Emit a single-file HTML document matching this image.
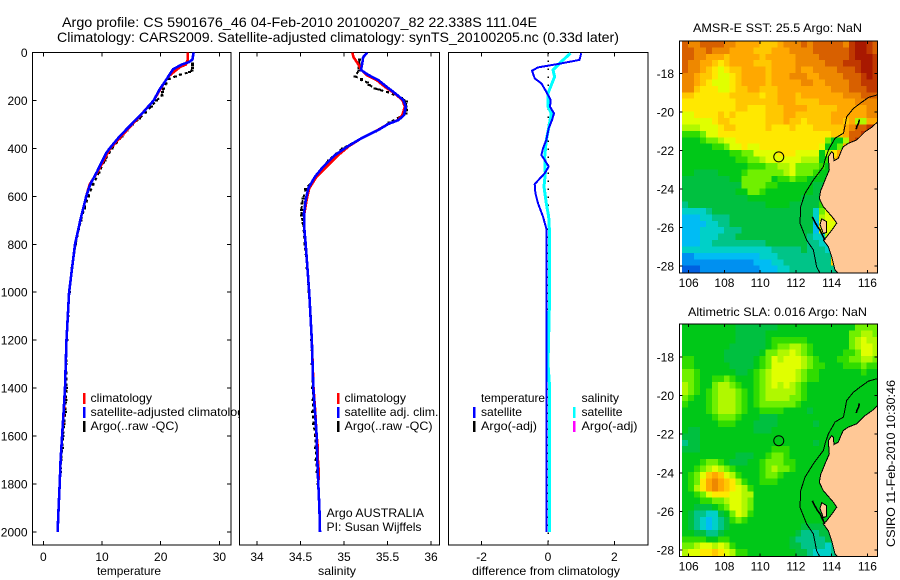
<!DOCTYPE html>
<html>
<head>
<meta charset="utf-8">
<title>Argo profile</title>
<style>
html,body{margin:0;padding:0;background:#fff;width:900px;height:580px;overflow:hidden}
svg{display:block}
text{font-family:"Liberation Sans",sans-serif;font-size:12px;fill:#000}
</style>
</head>
<body>
<svg id="chart" xmlns="http://www.w3.org/2000/svg" width="900" height="580" viewBox="0 0 900 580">
<defs>
<clipPath id="clip-temp"><rect x="32.5" y="52.5" width="198.5" height="492.5"/></clipPath>
<clipPath id="clip-sal"><rect x="239.5" y="52.5" width="200" height="492.5"/></clipPath>
<clipPath id="clip-diff"><rect x="448.5" y="52.5" width="199.5" height="492.5"/></clipPath>
<clipPath id="clip-map-sst"><rect x="679.5" y="41" width="198" height="232"/></clipPath>
<clipPath id="clip-map-sla"><rect x="679.5" y="324" width="198" height="232.5"/></clipPath>
</defs>
<rect x="0" y="0" width="900" height="580" fill="#fff"/>
<text x="62" y="27" style="font-size:14px" textLength="475" lengthAdjust="spacingAndGlyphs">Argo profile: CS 5901676_46 04-Feb-2010 20100207_82 22.338S 111.04E</text>
<text x="57" y="42" style="font-size:14px" textLength="562" lengthAdjust="spacingAndGlyphs">Climatology: CARS2009. Satellite-adjusted climatology: synTS_20100205.nc (0.33d later)</text>

<g id="panel-temp"></g>
<g>
<rect x="83" y="393" width="2.5" height="11" fill="#f00"/>
<text x="90.5" y="402" textLength="61.5" lengthAdjust="spacingAndGlyphs">climatology</text>
<rect x="83" y="407" width="2.5" height="11" fill="#00f"/>
<text x="90.5" y="416" textLength="160" lengthAdjust="spacingAndGlyphs">satellite-adjusted climatology</text>
<rect x="83" y="421" width="2.5" height="11" fill="#000"/>
<text x="90.5" y="430" textLength="88" lengthAdjust="spacingAndGlyphs">Argo(..raw -QC)</text>
</g>

<g id="panel-sal"></g>
<g>
<rect x="337" y="393" width="2.5" height="11" fill="#f00"/>
<text x="344.5" y="402" textLength="61.5" lengthAdjust="spacingAndGlyphs">climatology</text>
<rect x="337" y="407" width="2.5" height="11" fill="#00f"/>
<text x="344.5" y="416" textLength="94" lengthAdjust="spacingAndGlyphs">satellite adj. clim.</text>
<rect x="337" y="421" width="2.5" height="11" fill="#000"/>
<text x="344.5" y="430" textLength="88" lengthAdjust="spacingAndGlyphs">Argo(..raw -QC)</text>
<text x="326.5" y="517" textLength="97.5" lengthAdjust="spacingAndGlyphs">Argo AUSTRALIA</text>
<text x="326.5" y="531" textLength="95" lengthAdjust="spacingAndGlyphs">PI: Susan Wijffels</text>
</g>

<g id="panel-diff"></g>
<g>
<text x="481" y="402" textLength="64" lengthAdjust="spacingAndGlyphs">temperature</text>
<rect x="473" y="407" width="2.5" height="11" fill="#00f"/>
<text x="481" y="416" textLength="41" lengthAdjust="spacingAndGlyphs">satellite</text>
<rect x="473" y="421" width="2.5" height="11" fill="#000"/>
<text x="481" y="430" textLength="56" lengthAdjust="spacingAndGlyphs">Argo(-adj)</text>
<text x="581.5" y="402" textLength="37.5" lengthAdjust="spacingAndGlyphs">salinity</text>
<rect x="573" y="407" width="2.5" height="11" fill="#0ff"/>
<text x="581.5" y="416" textLength="41" lengthAdjust="spacingAndGlyphs">satellite</text>
<rect x="573" y="421" width="2.5" height="11" fill="#f0f"/>
<text x="581.5" y="430" textLength="56" lengthAdjust="spacingAndGlyphs">Argo(-adj)</text>
</g>

<text x="97" y="575" textLength="64" lengthAdjust="spacingAndGlyphs">temperature</text>
<text x="318" y="575" textLength="38" lengthAdjust="spacingAndGlyphs">salinity</text>
<text x="472" y="575" textLength="148" lengthAdjust="spacingAndGlyphs">difference from climatology</text>

<text x="693" y="32" textLength="169" lengthAdjust="spacingAndGlyphs">AMSR-E SST: 25.5 Argo: NaN</text>
<g id="map-sst"></g>
<text x="688" y="316" textLength="179" lengthAdjust="spacingAndGlyphs">Altimetric SLA: 0.016 Argo: NaN</text>
<g id="map-sla"></g>
<text transform="translate(895,547) rotate(-90)" textLength="167" lengthAdjust="spacingAndGlyphs">CSIRO 11-Feb-2010 10:30:46</text>
</svg>

<script>
// ---------- profile data (depth in dbar) ----------
const climTempDepths=[0,30,50,60,80,100,130,200,280,400,500,550,600,700,800,1000,1200,1400,1500,1600,1700,1800,1900,2000];
const climTempValues=[24.6,24.6,24.3,23.3,22.3,21.3,20.5,18.8,15.9,11.4,9.2,7.9,7.3,6.3,5.4,4.4,3.95,3.7,3.5,3.2,2.95,2.8,2.6,2.43];
const satTempDepths=[0,30,40,50,70,100,130,150,200,250,300,350,400,420,500,550,600,700,800,1000,1200,1400,1500,1600,1700,1800,1900,2000];
const satTempValues=[25.6,25.4,24.8,23.6,22.1,21.3,20.5,19.9,18.8,17,15,13,11.3,10.7,9.1,8,7.3,6.3,5.4,4.4,3.95,3.7,3.45,3.2,2.95,2.8,2.6,2.43];
const argoTempDepths=[45,55,65,75,82,92,100,110,130,150,165,180,200,225,250,275,300,325,350,375,400,450,500,550,600,650,700,800,900,1000,1100,1200,1300,1400,1450,1500,1550,1600,1650,1700,1750];
const argoTempValues=[25.4,25.4,25.4,25.3,24.9,23.4,22.5,21.4,20.9,20.5,20.3,20.2,19.3,18.4,17.4,16.4,15.2,14.3,13.4,12.5,11.7,10.5,9.5,8.5,7.7,7,6.4,5.5,4.9,4.45,4.2,4,3.9,3.95,3.85,3.75,3.55,3.35,3.25,3.05,2.95];

const climSalDepths=[0,20,45,73,94,115,143,170,198,226,261,282,298,323,358,390,428,477,518,567,615,671,734,800,1000,1200,1400,1500,1600,1650,1700,1750,1800,1900,2000];
const climSalValues=[35.095,35.11,35.157,35.2,35.26,35.376,35.47,35.58,35.67,35.7,35.67,35.62,35.51,35.39,35.2,35.06,34.935,34.8,34.685,34.6,34.57,34.545,34.544,34.56,34.6,34.63,34.65,34.67,34.685,34.7,34.7,34.71,34.705,34.717,34.724];
const satSalDepths=[0,20,45,73,94,115,143,170,198,226,261,282,298,323,358,390,428,477,518,567,615,671,734,800,1000,1200,1400,1500,1600,1700,1800,1900,2000];
const satSalValues=[35.268,35.22,35.21,35.195,35.28,35.395,35.49,35.586,35.68,35.71,35.69,35.625,35.51,35.395,35.2,35.05,34.896,34.76,34.667,34.59,34.56,34.54,34.544,34.56,34.6,34.63,34.647,34.667,34.686,34.693,34.705,34.717,34.724];
const argoSalDepths=[30,45,55,65,75,100,110,115,125,135,150,155,165,190,205,225,240,255,293,330,400,450,518,570,610,630,657,680,712,800,900,1000,1100,1200,1300,1400,1450,1500,1550,1600,1650,1700,1750,1800];
const argoSalValues=[35.18,35.17,35.17,35.17,35.17,35.126,35.2,35.2,35.27,35.29,35.357,35.4,35.5,35.66,35.72,35.71,35.72,35.71,35.52,35.36,34.98,34.82,34.68,34.56,34.53,34.52,34.51,34.51,34.53,34.55,34.575,34.595,34.615,34.625,34.635,34.64,34.645,34.64,34.65,34.67,34.675,34.68,34.69,34.7];

const diffTempDepths=[3,31,48,62,76,108,129,164,198,226,254,282,316,365,400,428,449,476,504,549,587,629,685,734,800,2000];
const diffTempValues=[1.0,0.95,0.3,-0.3,-0.48,-0.4,-0.2,-0.05,0.08,0.06,0.18,0.12,0.02,-0.05,-0.15,-0.2,-0.1,0.02,-0.1,-0.4,-0.38,-0.3,-0.15,-0.05,-0.05,-0.05];
const diffSalDepths=[3,38,73,101,136,170,226,254,316,365,435,504,560,629,685,734,800,1000,1300,1400,2000];
const diffSalValues=[0.68,0.4,0.15,0.2,0.1,0,0,0.1,0.02,-0.05,-0.1,-0.08,-0.12,-0.05,0.02,0.04,0.04,0.05,0.0,0.05,0.05];

const tempTicks=[0,10,20,30];
const salTicks=[34,34.5,35,35.5,36];
const salTickLabels=["34","34.5","35","35.5","36"];
const diffTicks=[-2,0,2];
const depthTicks=[0,200,400,600,800,1000,1200,1400,1600,1800,2000];
const zeroLineDepths=[0,2040];

// ---------- map data (colour-level per 1/3 degree cell, north to south) ----------
const sstCells=[
[15,14,14,15,15,15,15,14,14,13,13,13,13,12,12,12,13,14,14,14,15,14,15,15,15,15,15,14,16,17,17,16,15],
[15,15,14,14,15,14,14,14,13,13,13,13,12,12,12,13,13,13,14,14,14,14,15,15,15,15,15,15,16,17,17,16,15],
[15,15,14,14,13,13,13,12,13,13,13,13,13,12,13,13,13,13,13,14,14,14,14,15,15,15,15,15,16,17,17,17,16],
[15,14,14,13,13,12,11,12,13,13,13,13,12,12,12,13,13,13,13,14,14,14,14,14,15,15,15,16,16,16,17,17,16],
[15,14,14,13,12,11,10,11,12,12,13,13,13,13,12,13,13,13,13,14,13,13,14,14,14,14,15,15,15,16,17,17,16],
[14,14,13,12,12,11,10,10,11,12,13,13,13,13,12,13,13,13,14,14,14,13,13,14,14,14,14,15,15,15,16,17,16],
[14,14,13,12,11,10,10,10,11,12,13,13,13,13,12,13,13,13,13,13,14,14,13,13,14,14,14,14,15,15,16,16,16],
[14,14,12,11,11,11,10,10,11,12,12,13,13,12,12,12,13,13,13,13,13,13,13,13,13,14,14,14,15,15,15,16,16],
[12,12,11,11,11,11,11,11,12,12,12,12,12,11,12,12,13,13,13,12,13,13,13,13,13,13,13,14,14,14,15,15,15],
[11,11,11,11,11,11,11,11,11,12,12,12,12,12,12,12,13,13,13,12,12,12,12,13,13,13,13,13,13,14,14,14,14],
[11,11,11,11,11,11,11,11,11,12,12,11,11,11,12,12,12,13,13,13,13,12,12,12,12,12,13,13,13,13,13,14,14],
[10,10,11,11,11,11,12,11,12,11,11,11,11,11,12,12,12,13,13,12,12,12,12,12,12,13,13,13,13,13,13,14,14],
[10,10,10,10,10,11,12,12,11,11,11,11,11,11,12,12,12,13,12,12,11,12,12,12,12,13,13,12,13,9,9,13,13],
[9,9,9,10,10,10,11,12,12,11,11,11,11,11,12,11,11,11,12,11,11,11,12,12,12,12,12,13,14,15,15,16,17],
[7,7,7,8,10,10,11,11,11,11,11,11,11,11,11,11,11,11,11,11,11,11,11,11,11,12,12,13,15,15,16,17,17],
[6,6,6,7,8,8,9,10,10,11,11,11,11,11,11,11,11,11,11,11,11,11,11,11,8,6,6,9,15,16,16,17,17],
[6,6,6,6,6,7,7,8,10,10,11,10,10,11,11,11,11,11,11,11,11,11,11,10,6,6,8,13,15,16,16,16,17],
[6,6,6,6,6,6,6,6,7,7,8,8,10,10,10,10,11,11,11,10,10,10,10,6,9,11,13,14,13,12,12,12,12],
[6,6,6,6,6,6,6,6,6,7,7,8,8,9,10,10,10,10,10,10,9,9,9,6,7,12,14,13,12,12,12,12,12],
[6,6,6,6,6,6,6,6,6,6,6,7,7,7,8,8,9,9,10,8,8,8,8,7,6,7,7,12,12,12,12,12,12],
[6,6,5,5,5,5,6,6,6,6,7,8,8,8,8,8,8,9,10,8,8,8,7,6,6,6,12,12,12,12,12,12,12],
[5,5,5,5,5,5,5,5,6,6,8,8,8,8,8,6,7,7,8,7,7,6,6,6,5,5,12,12,12,12,12,12,12],
[5,5,5,5,5,5,5,5,5,5,8,8,8,8,7,7,6,6,6,6,6,6,5,5,5,12,12,12,12,12,12,12,12],
[5,5,5,5,5,5,5,5,5,6,6,8,8,7,6,6,6,6,6,6,6,6,5,5,5,12,12,12,12,12,12,12,12],
[5,5,5,5,5,5,5,5,5,5,5,6,6,6,6,6,6,6,6,6,5,5,5,5,5,12,12,12,12,12,12,12,12],
[4,5,5,5,5,5,5,5,5,5,5,5,5,5,6,6,6,6,5,5,5,5,5,7,9,11,12,12,12,12,12,12,12],
[3,3,3,3,4,5,5,5,5,5,5,5,5,5,5,5,5,5,5,5,5,5,3,8,10,11,12,12,12,12,12,12,12],
[2,2,2,3,3,4,4,4,5,5,5,5,5,5,5,5,5,5,5,5,5,5,3,9,10,11,11,12,12,12,12,12,12],
[2,2,2,2,3,3,4,4,5,5,5,5,5,5,5,5,5,5,5,5,5,5,2,10,10,10,11,11,12,12,12,12,12],
[2,2,2,3,3,3,3,4,4,4,5,5,5,5,5,5,5,5,5,5,5,5,2,10,10,10,11,11,12,12,12,12,12],
[2,2,2,3,3,3,4,4,4,5,5,5,5,5,5,5,5,5,5,5,5,4,3,3,9,10,10,11,12,12,12,12,12],
[2,2,2,3,3,4,4,4,4,4,4,4,4,4,5,5,5,5,5,5,5,4,4,3,3,3,12,12,12,12,12,12,12],
[3,3,3,3,3,3,3,3,3,3,3,3,3,3,3,4,4,4,4,4,5,4,4,4,3,3,12,12,12,12,12,12,12],
[1,1,2,2,2,2,2,2,2,2,2,2,2,3,3,3,4,4,4,4,4,4,4,4,4,12,12,12,12,12,12,12,12],
[1,1,1,1,1,1,1,1,1,1,1,1,2,2,2,3,3,4,4,4,4,4,4,4,4,12,12,12,12,12,12,12,12],
[0,0,0,1,1,1,1,1,1,1,1,1,1,2,2,2,3,3,4,4,4,4,4,4,4,4,12,12,12,12,12,12,12]
];
const slaCells=[
[6,6,6,6,6,6,6,6,6,5,5,5,5,5,5,5,6,6,6,6,6,6,6,6,6,6,6,6,6,8,8,8,8],
[6,6,6,6,6,6,6,6,6,5,5,5,5,5,6,6,6,6,6,6,6,6,6,6,6,6,6,6,8,8,9,9,8],
[6,6,6,6,6,6,6,6,6,5,5,5,5,5,6,7,7,7,7,7,7,6,6,6,6,6,6,6,8,9,10,9,9],
[6,6,6,6,6,6,6,6,5,5,5,5,5,5,6,7,8,8,9,9,8,7,6,6,6,6,6,6,8,9,10,10,9],
[6,6,6,6,6,6,6,5,5,5,5,5,5,6,8,8,9,9,10,9,8,7,6,6,6,6,6,7,7,8,10,10,9],
[7,7,6,6,6,6,6,5,5,5,5,5,6,7,8,10,9,10,10,10,9,8,7,6,6,6,7,7,8,8,9,9,8],
[7,7,6,6,6,6,6,6,5,5,5,5,6,7,8,10,10,10,10,10,9,8,7,7,6,6,6,7,7,7,8,7,7],
[8,8,7,6,6,6,6,6,6,5,5,6,7,8,9,10,10,10,10,9,8,7,7,6,6,6,6,6,6,6,7,6,6],
[8,8,7,6,6,7,7,8,7,6,6,6,7,8,9,10,10,10,10,9,8,7,7,6,6,6,6,6,6,6,6,6,6],
[9,8,7,6,6,8,9,9,8,7,6,6,7,8,9,10,9,10,9,8,7,6,6,6,6,6,6,6,6,6,6,6,6],
[9,8,7,6,7,8,9,9,9,8,7,6,7,8,9,9,9,9,9,8,7,6,6,6,6,6,6,6,6,6,6,6,6],
[8,7,6,6,7,8,9,9,9,8,7,6,7,8,9,9,9,9,8,8,7,6,6,6,6,6,6,6,6,6,6,6,6],
[7,6,6,6,7,8,9,9,9,8,7,6,7,8,8,8,8,8,8,7,6,6,6,6,6,6,6,6,6,6,6,6,6],
[6,6,6,6,7,8,9,9,9,8,7,6,6,7,7,7,7,6,6,6,6,5,6,6,6,6,6,6,6,6,6,6,6],
[6,6,6,6,6,7,8,8,8,7,6,6,6,5,5,5,6,6,6,6,6,6,6,6,6,6,6,6,6,6,6,6,6],
[6,6,6,6,6,6,7,7,7,6,6,6,5,5,5,5,6,6,6,6,6,6,5,6,6,6,6,6,6,6,6,6,6],
[6,5,5,6,6,6,6,6,6,6,6,6,5,5,5,6,6,6,6,6,6,6,6,6,6,6,6,6,6,6,6,6,6],
[5,5,5,6,6,6,6,6,6,6,6,6,6,6,6,6,6,6,6,6,6,6,6,6,6,6,6,6,6,6,6,6,6],
[4,5,5,6,6,6,6,6,6,6,6,6,6,6,6,6,6,6,6,6,6,6,5,6,6,6,6,6,6,6,6,6,6],
[5,5,5,6,6,6,6,6,6,6,6,6,6,6,6,7,7,7,6,6,6,6,6,6,6,6,6,6,6,6,6,6,6],
[6,6,6,6,6,6,6,6,6,5,5,5,6,6,7,8,8,7,6,6,6,6,6,6,6,6,6,6,6,6,6,6,6],
[6,6,6,7,8,8,7,6,5,5,5,6,6,7,8,8,8,7,7,6,6,6,6,6,6,6,6,6,6,6,6,6,6],
[6,6,7,8,9,10,9,8,7,6,6,6,6,7,8,9,8,8,7,6,6,6,6,6,6,6,6,6,6,6,6,6,6],
[6,7,8,10,12,13,12,10,9,7,6,6,6,7,8,8,7,6,6,6,6,6,6,6,6,6,6,6,6,6,6,6,6],
[6,7,8,11,13,14,13,12,11,9,7,6,6,7,7,7,6,6,6,6,6,6,6,6,6,6,6,6,6,6,6,6,6],
[6,7,9,11,13,14,13,12,11,10,9,7,6,6,6,6,6,6,6,6,6,6,6,6,6,6,6,6,6,6,6,6,6],
[6,6,7,8,10,11,11,11,10,10,9,9,6,6,6,6,6,6,6,6,6,6,6,6,6,6,6,6,6,6,6,6,6],
[6,6,6,7,7,8,8,9,10,10,9,8,6,6,6,6,6,6,6,6,6,6,6,6,6,6,6,6,6,6,6,6,6],
[6,6,5,5,5,6,7,8,10,10,9,8,6,6,6,6,6,6,6,6,6,6,6,6,6,6,6,6,6,6,6,6,6],
[6,5,4,4,3,3,5,6,8,10,9,7,6,6,6,6,6,6,6,6,6,6,6,6,6,6,6,6,6,6,6,6,6],
[6,5,4,3,2,3,4,5,7,8,7,6,6,6,6,6,6,6,6,6,6,6,6,6,6,6,6,6,6,6,6,6,6],
[6,5,4,3,2,3,4,5,6,6,6,6,6,6,6,6,6,6,6,6,5,5,5,5,6,6,6,6,6,6,6,6,6],
[6,6,5,5,4,4,5,6,6,6,6,6,6,6,6,6,6,6,6,5,4,4,4,5,5,6,6,6,6,6,6,6,6],
[7,7,7,7,6,6,7,7,6,6,6,6,6,6,6,6,6,6,5,4,4,4,4,4,5,5,6,6,6,6,6,6,6],
[8,8,9,10,10,9,10,9,7,6,6,6,6,6,6,6,6,6,5,5,4,4,4,4,3,4,5,6,6,6,6,6,6],
[9,10,10,11,11,12,11,10,9,7,7,6,6,6,6,6,6,6,6,5,5,4,3,3,3,4,5,6,6,6,6,6,6]
];
const mapLonTicks=[106,108,110,112,114,116];
const mapLatTicks=[-18,-20,-22,-24,-26,-28];
const landLons=[116.8,116.55,116.24,115.87,115.4,114.93,114.65,114.56,114.37,114.13,114.09,114.0,113.81,113.87,113.63,113.44,113.39,113.31,113.53,114.09,114.28,114.09,113.72,113.53,113.81,114,114.19,114.36,114.5,116.8];
const landLats=[-20.4,-20.54,-20.8,-21.03,-21.46,-21.63,-21.81,-21.98,-22.41,-22.54,-22.15,-22.07,-22.33,-23.02,-23.54,-23.97,-24.06,-24.49,-24.92,-25.52,-25.78,-26.04,-26.48,-26.65,-27,-27.52,-28.22,-28.36,-28.6,-28.6];
const peninsulaLons=[113.44,113.72,113.72,113.54,113.35];
const peninsulaLats=[-25.55,-25.7,-26.25,-26.32,-25.85];
const islandLons=[112.92,113.05,113.2,113.35,113.62];
const islandLats=[-25.45,-25.7,-25.95,-26.13,-26.65];
const shoalLons=[115.55,115.5,115.42,115.38];
const shoalLats=[-20.4,-20.6,-20.75,-20.9];
const isobathLons=[116.8,116.56,116.06,115.59,115.22,114.84,114.66,114.19,113.82,113.63,113.54,112.98,112.51,112.27,112.23,112.6,112.98,113.16,113.35];
const isobathLats=[-19.1,-19.12,-19.25,-19.56,-19.82,-20.25,-21.11,-21.37,-21.98,-22.5,-22.84,-23.53,-24.23,-24.92,-25.79,-26.65,-27.17,-28.03,-28.38];
const floatLon=[111.04];
const floatLat=[-22.338];
const levelColours=["#0060e0","#0090f0","#00bcf4","#00d0c8","#00c488","#00c040","#00c818","#30dc00","#70f000","#b0f800","#e0ff00","#ffe800","#ffc800","#ffa800","#ee8800","#d86000","#c03800","#a81800"];

// ---------- axis functions ----------
const NS="http://www.w3.org/2000/svg";
const tempX=v=>43.3+5.87*v;
const salX=v=>257+87*(v-34);
const diffX=v=>548+33.2*v;
const depthY=d=>52.5+0.2397*d;
const mapX=lon=>688.7+17.87*(lon-106);
const sstY=lat=>73.3+19.27*(-18-lat);
const slaY=lat=>357+19.3*(-18-lat);

function mk(parent,tag,attrs,txt){
  const e=document.createElementNS(NS,tag);
  for(const k in attrs)e.setAttribute(k,attrs[k]);
  if(txt!==undefined)e.textContent=txt;
  parent.appendChild(e);
  return e;
}
function pts(xs,ys,fx,fy){return xs.map((x,i)=>fx(x).toFixed(1)+","+fy(ys[i]).toFixed(1)).join(" ");}

function drawPanel(g,box,fx,ticks,labels,clip,showDepth){
  const bg=mk(g,"rect",{x:box.l,y:box.t,width:box.r-box.l,height:box.b-box.t,fill:"#fff"});
  
  
  const frame=mk(g,"rect",{x:box.l,y:box.t,width:box.r-box.l,height:box.b-box.t,fill:"none",stroke:"#000","stroke-width":1,"shape-rendering":"crispEdges"});
  
  
  ticks.forEach((t,i)=>{
    const x=fx(t);
    const tk=mk(g,"path",{d:`M${x} ${box.t}v4M${x} ${box.b}v-4`,stroke:"#000","stroke-width":1,fill:"none","shape-rendering":"crispEdges"});
    
    
    const lb=mk(g,"text",{x:x,y:561,"text-anchor":"middle"},labels[i]);
    
    
  });
  if(showDepth){
    depthTicks.forEach(d=>{
      const y=depthY(d);
      const tk=mk(g,"path",{d:`M${box.l} ${y}h4M${box.r} ${y}h-4`,stroke:"#000","stroke-width":1,fill:"none","shape-rendering":"crispEdges"});
      
      
      const lb=mk(g,"text",{x:27.5,y:y+4.5,"text-anchor":"end"},String(d));
      
      
    });
  }
  return mk(g,"g",{"clip-path":`url(#${clip})`});
}
function line(g,xs,ys,fx,colour,w){
  return mk(g,"polyline",{points:pts(xs,ys,fx,depthY),fill:"none",stroke:colour,"stroke-width":w,"stroke-linejoin":"round","shape-rendering":"crispEdges"});
}
function argoDots(g,xs,ys,fx){
  const l=mk(g,"polyline",{points:pts(xs,ys,fx,depthY),fill:"none",stroke:"#000","stroke-width":2,"stroke-dasharray":"3 3","shape-rendering":"crispEdges"});
  
  
  xs.forEach((v,i)=>{
    const d=mk(g,"rect",{x:fx(v)-1.5,y:depthY(ys[i])-1,width:3,height:2,fill:"#000","shape-rendering":"crispEdges"});
    
    
  });
}

// temperature panel
{
  const c=drawPanel(document.getElementById("panel-temp"),{l:32.5,r:231,t:52.5,b:545},tempX,tempTicks,tempTicks.map(String),"clip-temp",true);
  argoDots(c,argoTempValues,argoTempDepths,tempX);
  const a=line(c,climTempValues,climTempDepths,tempX,"#f00",2.6);
  
  
  const b=line(c,satTempValues,satTempDepths,tempX,"#00f",2.6);
  
  
}
// salinity panel
{
  const c=drawPanel(document.getElementById("panel-sal"),{l:239.5,r:439.5,t:52.5,b:545},salX,salTicks,salTickLabels,"clip-sal",false);
  argoDots(c,argoSalValues,argoSalDepths,salX);
  const a=line(c,climSalValues,climSalDepths,salX,"#f00",2.6);
  
  
  const b=line(c,satSalValues,satSalDepths,salX,"#00f",2.6);
  
  
}
// difference panel
{
  const c=drawPanel(document.getElementById("panel-diff"),{l:448.5,r:648,t:52.5,b:545},diffX,diffTicks,diffTicks.map(String),"clip-diff",false);
  const z=line(c,[0,0],zeroLineDepths,diffX,"#000",1.5);
  z.setAttribute("stroke-dasharray","1.5 6.5");
  
  
  const s=line(c,diffSalValues,diffSalDepths,diffX,"#0ff",3);
  
  
  const b=line(c,diffTempValues,diffTempDepths,diffX,"#00f",2);
  
  
}

// maps
function drawMap(g,cells,fy,box,clip){
  const inner=mk(g,"g",{"clip-path":`url(#${clip})`});
  const lon0=105.63, lat0=fy===sstY?-16.32:-16.29, step=1/3;
  cells.forEach((row,r)=>{
    row.forEach((v,c)=>{
      const x0=mapX(lon0+c*step), x1=mapX(lon0+(c+1)*step), y0=fy(lat0-r*step), y1=fy(lat0-(r+1)*step);
      const idx=Math.max(0,Math.min(levelColours.length-1,Math.round(v)));
      const cell=mk(inner,"rect",{x:x0.toFixed(2),y:y0.toFixed(2),width:(x1-x0+0.4).toFixed(2),height:(y1-y0+0.4).toFixed(2),fill:levelColours[idx],"shape-rendering":"crispEdges"});
      
      
    });
  });
  const land=mk(inner,"polygon",{points:pts(landLons,landLats,mapX,fy),fill:"#ffc896",stroke:"#000","stroke-width":1,"shape-rendering":"crispEdges"});
  
  
  const pen=mk(inner,"polygon",{points:pts(peninsulaLons,peninsulaLats,mapX,fy),fill:"#ffc896",stroke:"#000","stroke-width":1,"shape-rendering":"crispEdges"});
  
  
  const isl=mk(inner,"polyline",{points:pts(islandLons,islandLats,mapX,fy),fill:"none",stroke:"#000","stroke-width":1.6,"shape-rendering":"crispEdges"});
  
  
  const sh=mk(inner,"polyline",{points:pts(shoalLons,shoalLats,mapX,fy),fill:"none",stroke:"#000","stroke-width":1.6,"shape-rendering":"crispEdges"});
  
  
  const iso=mk(inner,"polyline",{points:pts(isobathLons,isobathLats,mapX,fy),fill:"none",stroke:"#000","stroke-width":1,"shape-rendering":"crispEdges"});
  
  
  const mark=mk(inner,"circle",{cx:mapX(floatLon[0]),cy:fy(floatLat[0]),r:5,fill:"none",stroke:"#000","stroke-width":1});
  
  
  const frame=mk(g,"rect",{x:box.l,y:box.t,width:box.r-box.l,height:box.b-box.t,fill:"none",stroke:"#000","stroke-width":1,"shape-rendering":"crispEdges"});
  
  
  mapLonTicks.forEach(t=>{
    const x=mapX(t);
    const tk=mk(g,"path",{d:`M${x} ${box.t}v3M${x} ${box.b}v-3`,stroke:"#000","stroke-width":1,"shape-rendering":"crispEdges"});
    
    
    const lb=mk(g,"text",{x:x,y:box.b+14,"text-anchor":"middle"},String(t));
    
    
  });
  mapLatTicks.forEach(t=>{
    const y=fy(t);
    const tk=mk(g,"path",{d:`M${box.l} ${y}h3M${box.r} ${y}h-3`,stroke:"#000","stroke-width":1,"shape-rendering":"crispEdges"});
    
    
    const lb=mk(g,"text",{x:674,y:y+4.5,"text-anchor":"end"},String(t));
    
    
  });
}
drawMap(document.getElementById("map-sst"),sstCells,sstY,{l:679.5,r:877.5,t:41,b:273},"clip-map-sst");
drawMap(document.getElementById("map-sla"),slaCells,slaY,{l:679.5,r:877.5,t:324,b:556.5},"clip-map-sla");
</script>
</body>
</html>
